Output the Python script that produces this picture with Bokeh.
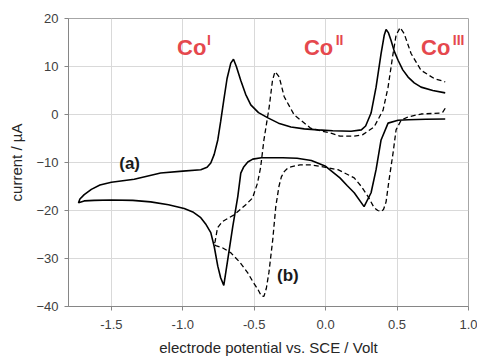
from bokeh.plotting import figure
from bokeh.models import Range1d, FixedTicker
from bokeh.core.properties import value
from bokeh.embed import file_html
from bokeh.resources import INLINE

# --- data -------------------------------------------------------------
# curve (a): solid
xa = [0.837, 0.70, 0.58, 0.507, 0.437, 0.388, 0.353, 0.318, 0.269, 0.2, 0.15, 0.1, 0.0,
      -0.1, -0.2, -0.3, -0.45, -0.51, -0.545, -0.575, -0.594, -0.615, -0.65, -0.685, -0.713,
      -0.735, -0.755, -0.78, -0.804, -0.84, -0.874, -0.93, -0.99, -1.1, -1.225, -1.35, -1.5,
      -1.62, -1.69, -1.73, -1.72, -1.69, -1.64, -1.58, -1.5, -1.34, -1.155, -1.0, -0.874,
      -0.83, -0.804, -0.78, -0.755, -0.735, -0.713, -0.69, -0.664, -0.645, -0.625, -0.594,
      -0.56, -0.524, -0.47, -0.404, -0.33, -0.243, -0.15, -0.054, 0.05, 0.178, 0.25, 0.28,
      0.318, 0.353, 0.388, 0.41, 0.423, 0.44, 0.458, 0.48, 0.507, 0.54, 0.577, 0.62, 0.668,
      0.75, 0.837]
ya = [-0.95, -1.0, -1.1, -1.2, -1.8, -5.3, -11.5, -16.3, -19.2, -16.3, -14.8, -13.2, -10.8,
      -9.6, -9.1, -9.0, -9.0, -9.3, -9.9, -11.0, -12.2, -17.1, -23.3, -30.2, -35.6,
      -34.0, -31.6, -27.5, -24.6, -22.8, -21.5, -20.3, -19.6, -18.8, -18.2, -17.9, -17.8,
      -17.9, -18.0, -18.4, -17.6, -16.7, -15.6, -14.7, -14.1, -13.5, -12.2, -11.8, -11.5,
      -11.0, -10.1, -8.3, -5.3, -1.5, 3.0, 7.5, 10.7, 11.5, 10.0, 7.1,
      4.2, 2.0, 0.4, -0.7, -1.8, -2.6, -3.0, -3.2, -3.4, -3.5, -3.2, -2.4,
      0.3, 5.7, 12.7, 16.5, 17.7, 17.0, 15.4, 13.2, 11.3, 9.3, 7.8, 6.6, 5.7,
      5.0, 4.5]

# curve (b): dashed
xb = [0.837, 0.82, 0.80, 0.668, 0.577, 0.528, 0.493, 0.472, 0.444, 0.423, 0.405, 0.388,
      0.365, 0.339, 0.297, 0.25, 0.2, 0.086, 0.0, -0.1, -0.18, -0.243, -0.27, -0.29, -0.31,
      -0.327, -0.349, -0.37, -0.397, -0.415, -0.432, -0.45, -0.475, -0.51, -0.545, -0.6,
      -0.664, -0.72, -0.769, -0.783, -0.774, -0.765, -0.757, -0.722, -0.641, -0.559, -0.512,
      -0.477, -0.455, -0.432, -0.395, -0.372, -0.355, -0.34, -0.325, -0.29, -0.22, -0.103,
      0.037, 0.1, 0.2, 0.26, 0.339, 0.402, 0.437, 0.472, 0.493, 0.521, 0.549, 0.598, 0.668,
      0.759, 0.837]
yb = [1.3, 0.5, 0.3, 0.1, -0.5, -1.2, -3.2, -8.0, -13.6, -18.2, -19.8, -20.2,
      -20.0, -19.4, -17.1, -15.0, -13.2, -11.5, -11.0, -10.5, -10.5, -10.9, -11.3, -11.9, -13.0,
      -15.0, -19.2, -26.0, -32.9, -36.2, -37.9, -37.8, -36.4, -34.8, -33.0, -30.8,
      -28.8, -27.8, -27.3, -27.1, -26.5, -25.0, -23.6, -22.3, -20.9, -18.8, -17.4,
      -14.3, -11.0, -5.3, 1.6, 7.1, 8.9, 8.4, 7.8, 3.7, -0.1, -2.9,
      -3.9, -4.5, -4.5, -4.2, -2.6, 0.9, 5.7, 12.7, 16.5, 18.1, 16.9, 12.7, 9.2,
      7.5, 6.8]

x_ticks = [-1.5, -1.0, -0.5, 0.0, 0.5, 1.0]
y_ticks = [-40, -30, -20, -10, 0, 10, 20]

ox_labels = ["Co", "Co", "Co"]
ox_sup = ["I", "II", "III"]
ox_x = [-1.04, -0.152, 0.668]
ox_sup_x = [-0.83, 0.07, 0.89]
ox_y = [14.0, 14.0, 14.0]
ox_sup_y = [15.6, 15.6, 15.6]

curve_labels = ["(a)", "(b)"]
curve_label_x = [-1.372, -0.264]
curve_label_y = [-10.3, -33.5]

# --- figure -----------------------------------------------------------
p = figure(width=477, height=358, output_backend="svg", toolbar_location=None,
           x_range=Range1d(-1.8, 1.0), y_range=Range1d(-40, 20),
           min_border_left=68, min_border_right=9, min_border_top=18, min_border_bottom=51)
p.background_fill_color = "white"
p.border_fill_color = "white"
p.outline_line_color = "#a6a6a6"
p.outline_line_width = 1

FONT = "Liberation Sans"
for ax in (p.xaxis[0], p.yaxis[0]):
    ax.major_label_text_font = FONT
    ax.major_label_text_font_size = "13px"
    ax.major_label_text_color = "#404040"
    ax.axis_label_text_font = FONT
    ax.axis_label_text_font_size = "15px"
    ax.axis_label_text_font_style = "normal"
    ax.axis_label_text_color = "#262626"
    ax.axis_line_color = "#868686"
    ax.major_tick_line_color = "#868686"
    ax.major_tick_out = 4
    ax.major_tick_in = 0
    ax.minor_tick_line_color = None

p.xaxis.ticker = FixedTicker(ticks=x_ticks)
p.yaxis.ticker = FixedTicker(ticks=y_ticks)
p.xaxis.major_label_overrides = {v: f"{v:.1f}" for v in x_ticks}
p.xaxis.axis_label = "electrode potential vs. SCE / Volt"
p.yaxis.axis_label = "current / µA"
p.xaxis.major_label_standoff = 9
p.yaxis.major_label_standoff = 6
p.xaxis.axis_label_standoff = 7
p.yaxis.axis_label_standoff = 8

p.xgrid.ticker = FixedTicker(ticks=x_ticks)
p.ygrid.ticker = FixedTicker(ticks=y_ticks)
p.grid.grid_line_color = "#d9d9d9"
p.grid.grid_line_width = 1

p.line(xa, ya, line_color="black", line_width=1.6)
p.line(xb, yb, line_color="black", line_width=1.3, line_dash="5 3")

RED = "#e5484d"
p.text(x=ox_x, y=ox_y, text=ox_labels, text_font=value(FONT), text_font_size="22px",
       text_font_style="bold", text_color=RED, text_baseline="alphabetic", text_align="left")
p.text(x=ox_sup_x, y=ox_sup_y, text=ox_sup, text_font=value(FONT), text_font_size="14px",
       text_font_style="bold", text_color=RED, text_baseline="alphabetic", text_align="left")
p.text(x=curve_label_x, y=curve_label_y, text=curve_labels, text_font=value(FONT),
       text_font_size="17px", text_font_style="bold", text_color="#1a1a1a",
       text_baseline="middle", text_align="center")

open("out.html", "w").write(file_html(p, INLINE))
